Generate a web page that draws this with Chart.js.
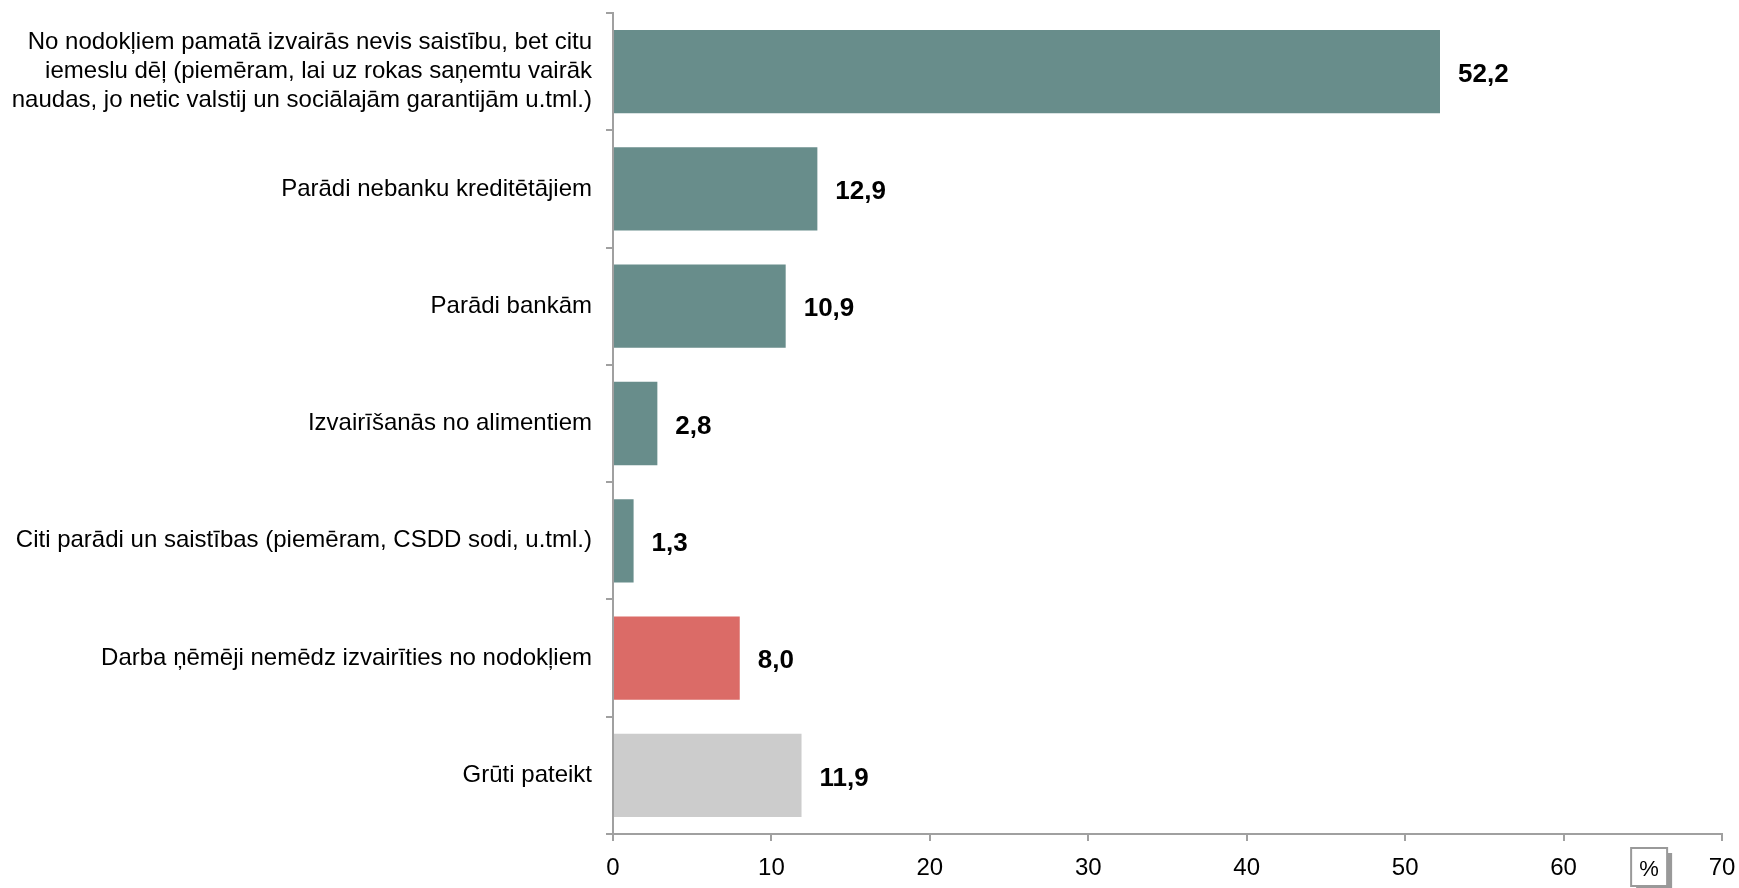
<!DOCTYPE html>
<html>
<head>
<meta charset="utf-8">
<script src="https://cdn.jsdelivr.net/npm/chart.js@4.4.0/dist/chart.umd.min.js"></script>
<style>
  html, body { margin: 0; padding: 0; background: #fff; }
  #wrap { width: 1739px; height: 888px; }
</style>
</head>
<body>
<div id="wrap"><canvas id="myChart" width="1739" height="888"></canvas></div>
<script>
var categories = [
    ['No nodokļiem pamatā izvairās nevis saistību, bet citu', 'iemeslu dēļ (piemēram, lai uz rokas saņemtu vairāk', 'naudas, jo netic valstij un sociālajām garantijām u.tml.)'],
    'Parādi nebanku kreditētājiem',
    'Parādi bankām',
    'Izvairīšanās no alimentiem',
    'Citi parādi un saistības (piemēram, CSDD sodi, u.tml.)',
    'Darba ņēmēji nemēdz izvairīties no nodokļiem',
    'Grūti pateikt'
];
var values = [52.2, 12.9, 10.9, 2.8, 1.3, 8.0, 11.9];
var barColors = ['#688d8b', '#688d8b', '#688d8b', '#688d8b', '#688d8b', '#db6b67', '#cccccc'];
var xTicks = [0, 10, 20, 30, 40, 50, 60, 70];
var unitLabel = '%';

var valueLabels = {
    id: 'valueLabels',
    afterDatasetsDraw: function(chart) {
        var ctx = chart.ctx;
        var meta = chart.getDatasetMeta(0);
        ctx.save();
        ctx.font = 'bold 26px "Liberation Sans", Arial, sans-serif';
        ctx.fillStyle = '#000';
        ctx.textAlign = 'left';
        ctx.textBaseline = 'middle';
        meta.data.forEach(function(bar, i) {
            ctx.fillText(values[i].toFixed(1).replace('.', ','), bar.x + 18, bar.y + 3);
        });
        ctx.restore();
    }
};

var unitBox = {
    id: 'unitBox',
    afterDraw: function(chart) {
        var ctx = chart.ctx;
        var x = chart.scales.x.getPixelForValue(65.4);
        var y = chart.scales.x.bottom - 22;
        ctx.save();
        ctx.fillStyle = '#999';
        ctx.fillRect(x - 13, y - 13, 36, 38);
        ctx.fillStyle = '#fff';
        ctx.fillRect(x - 18, y - 18, 36, 38);
        ctx.strokeStyle = '#999';
        ctx.lineWidth = 2;
        ctx.strokeRect(x - 18, y - 18, 36, 38);
        ctx.fillStyle = '#000';
        ctx.font = '22px "Liberation Sans", Arial, sans-serif';
        ctx.textAlign = 'center';
        ctx.textBaseline = 'middle';
        ctx.fillText(unitLabel, x, y + 4);
        ctx.restore();
    }
};

var ctx = document.getElementById('myChart').getContext('2d');
var myChart = new Chart(ctx, {
    type: 'bar',
    data: {
        labels: categories,
        datasets: [{
            data: values,
            backgroundColor: barColors,
            categoryPercentage: 1,
            barPercentage: 0.71
        }]
    },
    options: {
        indexAxis: 'y',
        responsive: false,
        animation: false,
        layout: { padding: { top: 13, right: 17, left: 0, bottom: 0 } },
        plugins: {
            legend: { display: false },
            tooltip: { enabled: false }
        },
        scales: {
            x: {
                min: 0,
                max: 70,
                afterBuildTicks: function(s) {
                    s.ticks = xTicks.map(function(v) { return { value: v }; });
                },
                afterFit: function(s) {
                    s.height = 54;
                    s.paddingLeft = 0;
                    s.paddingRight = 0;
                },
                border: { color: '#a0a0a0', width: 2 },
                grid: { drawOnChartArea: false, drawTicks: true, tickLength: 7, color: '#a0a0a0', lineWidth: 2 },
                ticks: {
                    color: '#000',
                    padding: 13,
                    maxRotation: 0,
                    font: { family: '"Liberation Sans", Arial, sans-serif', size: 24 }
                }
            },
            y: {
                afterFit: function(s) {
                    s.width = 613;
                    s.paddingTop = 0;
                    s.paddingBottom = 0;
                },
                border: { color: '#a0a0a0', width: 2 },
                grid: { offset: true, drawOnChartArea: false, drawTicks: true, tickLength: 7, color: '#a0a0a0', lineWidth: 2 },
                ticks: {
                    color: '#000',
                    padding: 14,
                    autoSkip: false,
                    font: { family: '"Liberation Sans", Arial, sans-serif', size: 24, lineHeight: 1.2 }
                }
            }
        }
    },
    plugins: [valueLabels, unitBox]
});
</script>
</body>
</html>
